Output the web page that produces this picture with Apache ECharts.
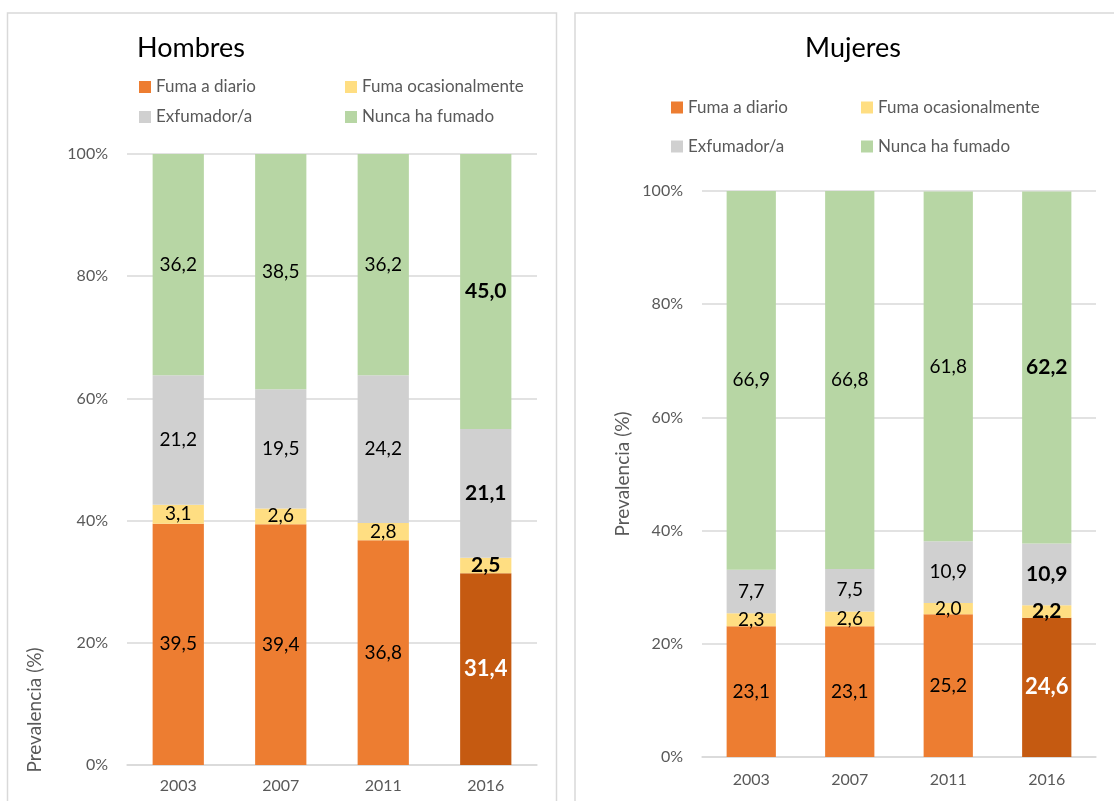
<!DOCTYPE html>
<html>
<head>
<meta charset="utf-8">
<script src="https://cdn.jsdelivr.net/npm/echarts@6/dist/echarts.min.js"></script>
<style>
  html, body { margin: 0; padding: 0; background: #fff; }
  #chart { width: 1114px; height: 801px; }
</style>
</head>
<body>
<div id="chart"></div>
<script>
// datos
const years = ['2003', '2007', '2011', '2016'];
const seriesNames = ['Fuma a diario', 'Fuma ocasionalmente', 'Exfumador/a', 'Nunca ha fumado'];
// Hombres
const hDiario = [39.5, 39.4, 36.8, 31.4];
const hOcasional = [3.1, 2.6, 2.8, 2.5];
const hExfumador = [21.2, 19.5, 24.2, 21.1];
const hNunca = [36.2, 38.5, 36.2, 45.0];
// Mujeres
const mDiario = [23.1, 23.1, 25.2, 24.6];
const mOcasional = [2.3, 2.6, 2.0, 2.2];
const mExfumador = [7.7, 7.5, 10.9, 10.9];
const mNunca = [66.9, 66.8, 61.8, 62.2];
const yTicks = [0, 20, 40, 60, 80, 100];

const colors = ['#ED7D31', '#FFDE82', '#D0D0D0', '#B7D6A4'];
const darkOrange = '#C55A11';
const FONT = 'Lato, "Liberation Sans", sans-serif';
const highlight = 3; // 2016 destacado

function fmt(v) {
  return v.toFixed(1).replace('.', ',');
}

// construye los datos de una serie, resaltando 2016
function buildData(values, idx) {
  return values.map(function (v, i) {
    if (i !== highlight) return v;
    const item = {
      value: v,
      label: { fontWeight: 'bold', fontSize: 21, color: '#000' }
    };
    if (idx === 0) {
      item.itemStyle = { color: darkOrange };
      item.label = { fontWeight: 'bold', fontSize: 22, color: '#fff' };
    }
    return item;
  });
}

function buildSeries(groups, axisIdx, stackName) {
  return groups.map(function (vals, k) {
    return {
      name: seriesNames[k],
      type: 'bar',
      stack: stackName,
      xAxisIndex: axisIdx,
      yAxisIndex: axisIdx,
      barWidth: '50%',
      itemStyle: { color: colors[k] },
      label: {
        show: true,
        position: 'inside',
        fontFamily: FONT,
        fontSize: 19,
        color: '#000',
        formatter: function (p) { return fmt(p.value); }
      },
      data: buildData(vals, k)
    };
  });
}

function xAxisCfg(grid, margin) {
  return {
    type: 'category',
    gridIndex: grid,
    data: years,
    axisTick: { show: false },
    axisLine: { lineStyle: { color: '#D9D9D9', width: 1.5 } },
    axisLabel: { color: '#595959', fontSize: 16, fontFamily: FONT, margin: margin }
  };
}

function yAxisCfg(grid) {
  return {
    type: 'value',
    gridIndex: grid,
    min: yTicks[0],
    max: yTicks[yTicks.length - 1],
    interval: 20,
    axisLine: { show: false },
    axisTick: { show: false },
    splitLine: { lineStyle: { color: '#D9D9D9', width: 1.5 } },
    axisLabel: { color: '#595959', fontSize: 16, fontFamily: FONT, margin: 19, formatter: '{value}%' }
  };
}

function legendCfg(left, top, textW, lineH) {
  return {
    left: left,
    top: top,
    width: 420,
    orient: 'horizontal',
    padding: 0,
    itemWidth: 12,
    itemHeight: 12,
    itemGap: 10,
    icon: 'rect',
    data: seriesNames,
    selectedMode: false,
    textStyle: { color: '#595959', fontSize: 17, fontFamily: FONT, width: textW, lineHeight: lineH }
  };
}

const chart = echarts.init(document.getElementById('chart'));
chart.setOption({
  animation: false,
  title: [
    { text: 'Hombres', left: 137, top: 35, padding: 0,
      textStyle: { fontSize: 27, fontWeight: 'normal', color: '#000', fontFamily: FONT } },
    { text: 'Mujeres', left: 853, top: 35, padding: 0, textAlign: 'center',
      textStyle: { fontSize: 27, fontWeight: 'normal', color: '#000', fontFamily: FONT } }
  ],
  legend: [
    legendCfg(139, 77, 179, 20),
    legendCfg(671, 93, 163, 29)
  ],
  grid: [
    { left: 127, right: 577, top: 154, bottom: 36 },
    { left: 702, right: 18, top: 191, bottom: 44 }
  ],
  xAxis: [xAxisCfg(0, 13), xAxisCfg(1, 15)],
  yAxis: [yAxisCfg(0), yAxisCfg(1)],
  graphic: [
    { type: 'rect', shape: { x: 7.5, y: 13, width: 549, height: 820 },
      style: { fill: 'none', stroke: '#D9D9D9', lineWidth: 1.5 }, silent: true },
    { type: 'rect', shape: { x: 575, y: 13, width: 600, height: 820 },
      style: { fill: 'none', stroke: '#D9D9D9', lineWidth: 1.5 }, silent: true },
    { type: 'text', x: 35, y: 710, rotation: Math.PI / 2,
      style: { text: 'Prevalencia (%)', fill: '#595959', fontSize: 19, fontFamily: 'Lato',
        textAlign: 'center', textVerticalAlign: 'middle' } },
    { type: 'text', x: 623, y: 474, rotation: Math.PI / 2,
      style: { text: 'Prevalencia (%)', fill: '#595959', fontSize: 19, fontFamily: 'Lato',
        textAlign: 'center', textVerticalAlign: 'middle' } }
  ],
  series: buildSeries([hDiario, hOcasional, hExfumador, hNunca], 0, 'hombres')
    .concat(buildSeries([mDiario, mOcasional, mExfumador, mNunca], 1, 'mujeres'))
});
</script>
</body>
</html>
